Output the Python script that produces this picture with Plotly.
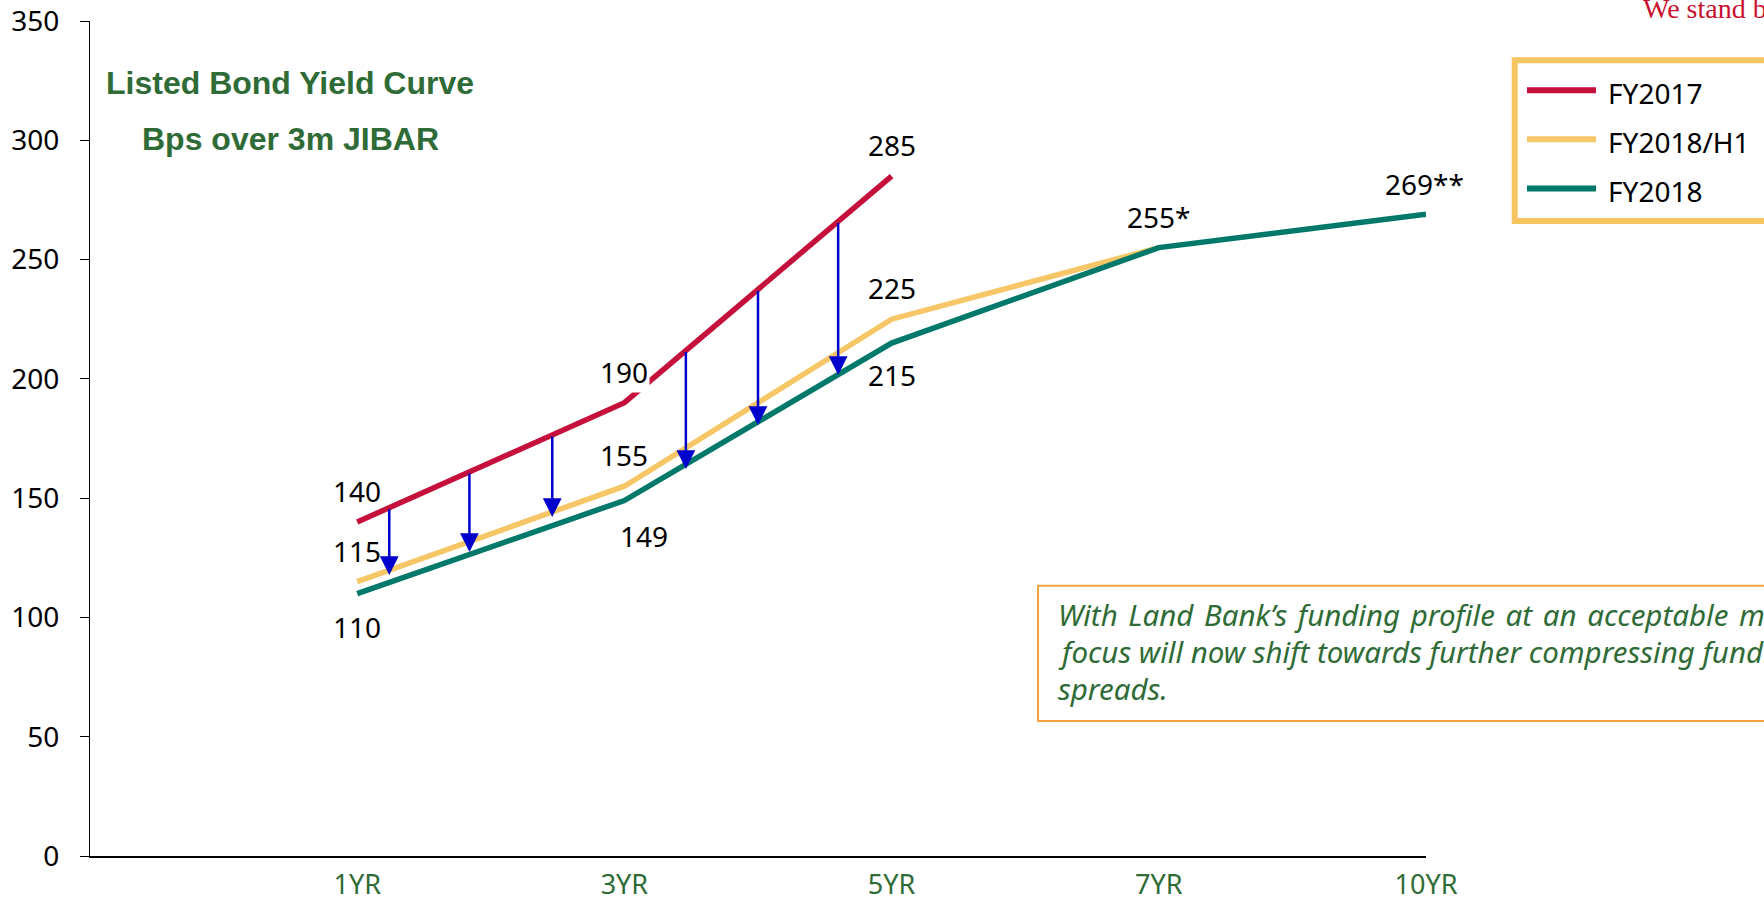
import numpy as np
import plotly.graph_objects as go

# ---- data -------------------------------------------------------------
tenors = ["1YR", "3YR", "5YR", "7YR", "10YR"]
fy2017 = [140, 190, 285]
fy2018_h1 = [115, 155, 225, 255]
fy2018 = [110, 149, 215, 255, 269]

fy2017_text = ["140", "190", "285"]
fy2018_h1_text = ["115", "155", "225"]
fy2018_text = ["110", "149", "215", "255*", "269**"]

# compression arrows: position along the tenor axis and the spread they point to
arrow_pos = [0.12, 0.42, 0.73, 1.23, 1.5, 1.8]
arrow_to = [117.8, 127.4, 142.1, 162.2, 180.7, 201.6]

# ---- styling ----------------------------------------------------------
RED = "#C5103C"
YELLOW = "#F6C667"
TEAL = "#00796A"
GREEN_TXT = "#2F6B36"
BLUE = "#0000CC"
FONT = "Noto Sans"

W, H = 1764, 901
L, R, T, B = 90, 338, 21, 45
PW, PH = W - L - R, H - T - B


def px(x):
    return (x - L) / PW


def py(y):
    return (H - B - y) / PH


idx = list(range(len(tenors)))

fig = go.Figure()
for vals, color, name in [(fy2017, RED, "FY2017"),
                          (fy2018_h1, YELLOW, "FY2018/H1"),
                          (fy2018, TEAL, "FY2018")]:
    fig.add_trace(go.Scatter(x=idx[:len(vals)], y=vals, mode="lines", name=name,
                             line=dict(color=color, width=5.5), showlegend=False,
                             hoverinfo="skip"))

annotations = []


def value_label(i, v, text, dy, dx=0, bg=None):
    annotations.append(dict(x=i, y=v, xref="x", yref="y", text=text, showarrow=False,
                            xshift=dx, yshift=dy, bgcolor=bg,
                            font=dict(family=FONT, size=28, color="black")))


for i, (v, t) in enumerate(zip(fy2017, fy2017_text)):
    value_label(i, v, t, 31, bg="white" if i == 1 else None)
for i, (v, t) in enumerate(zip(fy2018_h1, fy2018_h1_text)):
    value_label(i, v, t, 31)
fy2018_shift = [(-33, 0), (-35, 20), (-32, 0), (31, 0), (30, -2)]
for i, (v, t) in enumerate(zip(fy2018, fy2018_text)):
    value_label(i, v, t, fy2018_shift[i][0], fy2018_shift[i][1])

# arrows from the FY2017 curve down to the compressed spread
arrow_from = np.interp(arrow_pos, idx[:len(fy2017)], fy2017)
for xp, y0, y1 in zip(arrow_pos, arrow_from, arrow_to):
    annotations.append(dict(x=xp, y=y1, ax=xp, ay=float(y0), xref="x", yref="y",
                            axref="x", ayref="y", text="", showarrow=True,
                            arrowhead=2, arrowsize=1.5, arrowwidth=2.5,
                            arrowcolor=BLUE, standoff=0))

# chart heading
for text, yc in [("Listed Bond Yield Curve", 83), ("Bps over 3m JIBAR", 139)]:
    annotations.append(dict(x=px(290), y=py(yc), xref="paper", yref="paper", text=f"<b>{text}</b>",
                            showarrow=False, xanchor="center", yanchor="middle",
                            font=dict(family="Liberation Sans", size=32, color=GREEN_TXT)))

# legend
legend_items = [("FY2017", RED, 90.3, 93), ("FY2018/H1", YELLOW, 139.3, 142), ("FY2018", TEAL, 188.5, 191)]
shapes = [dict(type="rect", xref="paper", yref="paper", x0=px(1514.7), x1=px(1800),
               y0=py(221), y1=py(60.3), line=dict(color="#F6C560", width=6),
               fillcolor="white", layer="above")]
for name, color, yl, yt in legend_items:
    shapes.append(dict(type="line", xref="paper", yref="paper", x0=px(1527), x1=px(1596),
                       y0=py(yl), y1=py(yl), line=dict(color=color, width=6), layer="above"))
    annotations.append(dict(x=px(1606), y=py(yt), xref="paper", yref="paper", text=name,
                            showarrow=False, xanchor="left", yanchor="middle",
                            font=dict(family=FONT, size=28, color="black")))

# commentary box (justified first line)
shapes.append(dict(type="rect", xref="paper", yref="paper", x0=px(1038), x1=px(1800),
                   y0=py(721), y1=py(585.7), line=dict(color="#F5A13C", width=2),
                   fillcolor="rgba(0,0,0,0)", layer="above"))
sp = " \u200a"
comment_lines = [
    sp.join("With Land Bank’s funding profile at an acceptable mix, the".split(" ")),
    "focus will now shift towards further compressing funding",
    "spreads.",
]
for line, yc in zip(comment_lines, [614, 651, 688]):
    annotations.append(dict(x=px(1056), y=py(yc), xref="paper", yref="paper", text=f"<i>{line}</i>",
                            showarrow=False, xanchor="left", yanchor="middle",
                            font=dict(family=FONT, size=29.5, color=GREEN_TXT)))

# header strapline
annotations.append(dict(x=px(1641), y=py(8), xref="paper", yref="paper", text="We stand by",
                        showarrow=False, xanchor="left", yanchor="middle",
                        font=dict(family="Liberation Serif", size=28, color="#C8102E")))

fig.update_layout(
    width=W, height=H,
    margin=dict(l=L, r=R, t=T, b=B, pad=0, autoexpand=False),
    paper_bgcolor="white", plot_bgcolor="white",
    annotations=annotations, shapes=shapes,
    xaxis=dict(range=[-1, 4], tickvals=idx, ticktext=tenors, ticks="", automargin=False,
               showline=True, linecolor="black", linewidth=2, showgrid=False, zeroline=False,
               tickfont=dict(family=FONT, size=27, color=GREEN_TXT), ticklabelstandoff=4),
    yaxis=dict(range=[0, 350], tickvals=list(range(0, 351, 50)), ticks="outside", ticklen=9,
               tickcolor="black", tickwidth=1, showline=True, linecolor="black", linewidth=1,
               showgrid=False, zeroline=False, ticklabelstandoff=15, automargin=False,
               tickfont=dict(family=FONT, size=28, color="black")),
)

fig.write_html("out.html")
